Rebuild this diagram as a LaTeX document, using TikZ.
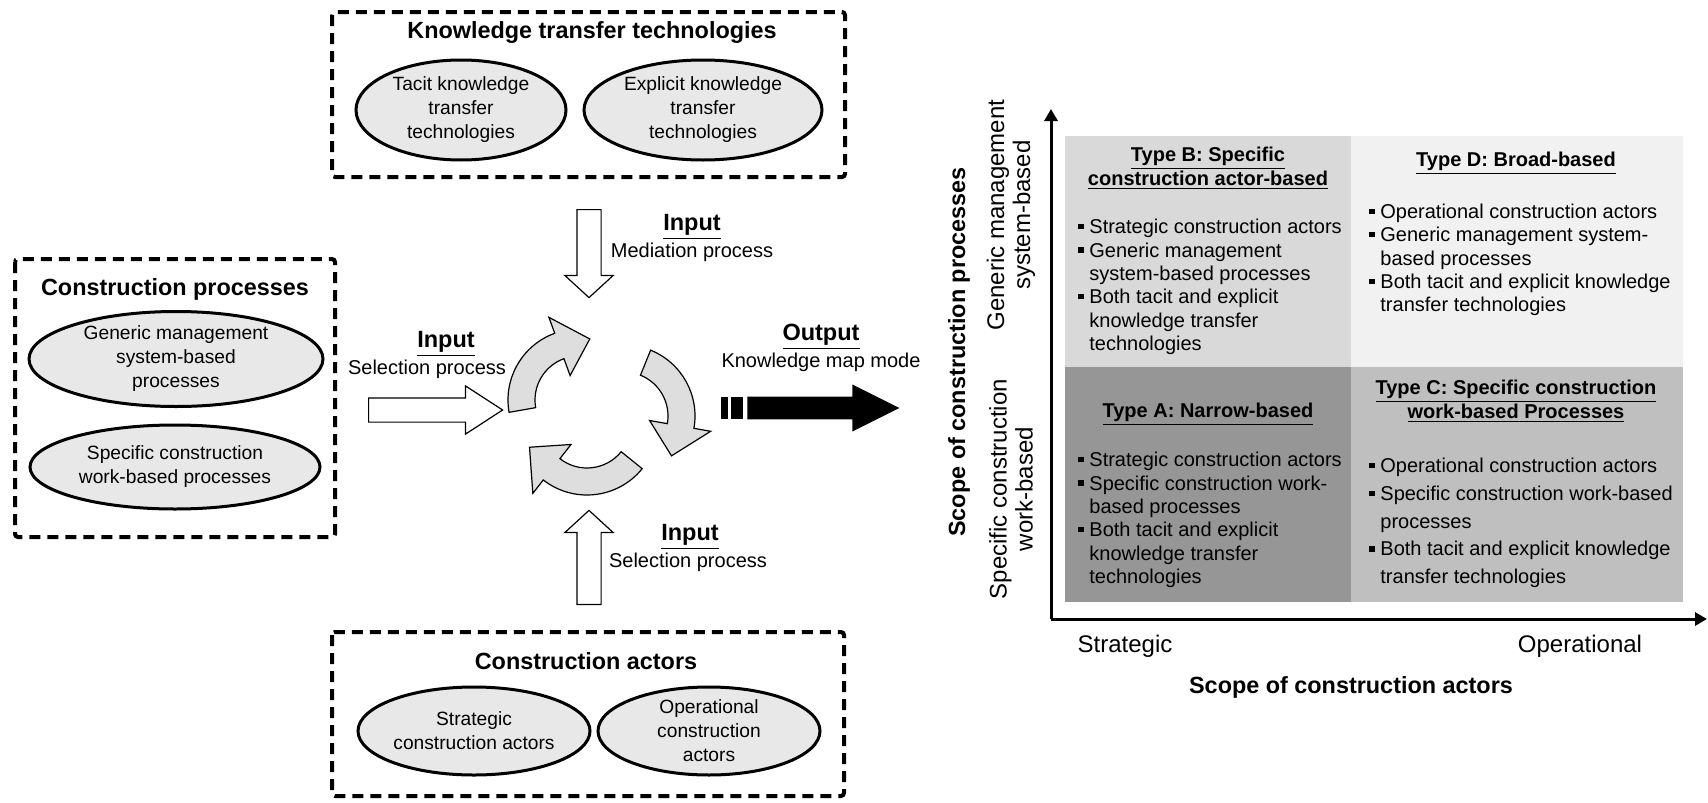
\documentclass[tikz,border=0pt]{standalone}
\usepackage{fontspec}
\setmainfont{Liberation Sans}
\usetikzlibrary{shapes.geometric,shapes.arrows,calc,arrows.meta}

\definecolor{ovalfill}{gray}{0.91}
\definecolor{cycfill}{gray}{0.87}
\definecolor{typeA}{gray}{0.59}
\definecolor{typeB}{gray}{0.85}
\definecolor{typeC}{gray}{0.75}
\definecolor{typeD}{gray}{0.945}

\tikzset{
  group/.style={draw, line width=2pt, dash pattern=on 5.5pt off 3.5pt, rounded corners=1.5pt},
  grouptitle/.style={font=\fontsize{11.7}{13.5}\selectfont\bfseries},
  oval/.style={ellipse, draw, line width=1.5pt, fill=ovalfill, align=center, inner sep=0pt,
    font=\fontsize{9.6}{12}\selectfont},
  blockarrow/.style={single arrow, draw, fill=white, line width=0.6pt, inner xsep=0pt,
    inner ysep=5.75pt, single arrow head extend=6pt, single arrow head indent=0pt, anchor=tail},
  vblockarrow/.style={blockarrow, inner xsep=5.75pt, inner ysep=0pt},
  cyc/.style={draw, fill=cycfill, line width=0.6pt},
  iohead/.style={font=\fontsize{11.75}{14}\selectfont\bfseries, inner sep=0pt},
  iotext/.style={font=\fontsize{10}{12}\selectfont, inner sep=0pt},
  qhead/.style={font=\fontsize{10}{12}\selectfont\bfseries, align=center, inner sep=0pt},
  qtext/.style={font=\fontsize{10}{11.7}\selectfont, align=left, anchor=west, inner sep=0pt},
  axislabel/.style={font=\fontsize{12}{13}\selectfont, align=center, inner sep=0pt},
  axistitle/.style={font=\fontsize{11.7}{13.5}\selectfont\bfseries, inner sep=0pt},
  axis/.style={line width=1.5pt, -{Triangle[length=6pt,width=6.5pt]}}
}

% bullet and indent for the quadrant lists
\newcommand{\qb}{\makebox[5.5pt][l]{\rule[0.22em]{2.6pt}{2.6pt}}}
\newcommand{\qi}{\hspace*{5.5pt}}

% circular arrow: centre, tail angle, head angle
\newcommand{\cycarrow}[3]{%
  \draw[cyc] ($(#1)+(#2:71)$) arc[start angle=#2, end angle=#3, radius=71]
    -- ($(#1)+(#3:88)$) -- ($(#1)+({#3+30}:62)$) -- ($(#1)+(#3:26)$)
    -- ($(#1)+(#3:44)$) arc[start angle=#3, end angle=#2, radius=44] -- cycle;}

\begin{document}
\begin{tikzpicture}[x=0.5pt,y=-0.5pt]
\useasboundingbox (0,0) rectangle (1708,803);

% knowledge transfer technologies
\draw[group] (332,12) rectangle (845,177);
\node[grouptitle] (kttitle) at (592,33) {Knowledge transfer technologies};
\node[oval, minimum width=105pt, minimum height=50pt] (tacit) at (461,110) {Tacit knowledge\\transfer\\technologies};
\node[oval, minimum width=119pt, minimum height=50pt] (explicit) at (703,110) {Explicit knowledge\\transfer\\technologies};

% construction processes
\draw[group] (15,259) rectangle (335,537);
\node[grouptitle] (proctitle) at (175,289) {Construction processes};
\node[oval, minimum width=147pt, minimum height=47.5pt] (generic) at (176,359) {Generic management\\system-based\\processes};
\node[oval, minimum width=145pt, minimum height=42pt] (specific) at (175,467) {Specific construction\\work-based processes};

% construction actors
\draw[group] (332,632) rectangle (844,796);
\node[grouptitle] (acttitle) at (586,661) {Construction actors};
\node[oval, minimum width=116pt, minimum height=44pt] (strategic) at (474,731) {Strategic\\construction actors};
\node[oval, minimum width=111pt, minimum height=44pt] (operational) at (709,731) {Operational\\construction\\actors};

% inputs
\node[vblockarrow, minimum height=44pt, single arrow tip angle=95, shape border rotate=270] (medarrow) at (589,209) {};
\node[iohead] (medin) at (692,227) {\underline{Input}};
\node[iotext] (medtxt) at (692,252) {Mediation process};

\node[blockarrow, minimum height=67pt, single arrow tip angle=66] (procarrow) at (368,410) {};
\node[iohead] (procin) at (446,344) {\underline{Input}};
\node[iotext] (proctxt) at (427,369) {Selection process};

\node[vblockarrow, minimum height=47pt, single arrow tip angle=95, shape border rotate=90] (actarrow) at (589,605) {};
\node[iohead] (actin) at (690,537) {\underline{Input}};
\node[iotext] (acttxt) at (688,562) {Selection process};

% cycle
\coordinate (cycL) at (579,400);
\coordinate (cycR) at (624,416);
\coordinate (cycB) at (587,424);
\cycarrow{cycL}{170}{250}
\cycarrow{cycR}{292}{370}
\cycarrow{cycB}{39}{128}

% output
\fill (721,397) rectangle (728,419);
\fill (731,397) rectangle (743,419);
\node[single arrow, fill=black, inner xsep=0pt, inner ysep=5.5pt, single arrow head extend=6pt,
  single arrow head indent=0pt, single arrow tip angle=53, minimum height=76pt, anchor=tail] (outarrow) at (747,408) {};
\node[iohead] (outhead) at (821,337) {\underline{Output}};
\node[iotext] (outtxt) at (821,362) {Knowledge map mode};

% quadrants
\fill[typeB] (1065,136) rectangle (1351,367);
\fill[typeD] (1351,136) rectangle (1683,367);
\fill[typeA] (1065,367) rectangle (1351,602);
\fill[typeC] (1351,367) rectangle (1683,602);

\node[qhead] (typeBhead) at (1208,168) {\underline{Type B: Specific}\\\underline{construction actor-based}};
\node[qtext] (typeBlist) at (1078,287) {\qb Strategic construction actors\\\qb Generic management\\\qi system-based processes\\\qb Both tacit and explicit\\\qi knowledge transfer\\\qi technologies};

\node[qhead] (typeDhead) at (1516,163) {\underline{Type D: Broad-based}};
\node[qtext] (typeDlist) at (1369,260) {\qb Operational construction actors\\\qb Generic management system-\\\qi based processes\\\qb Both tacit and explicit knowledge\\\qi transfer technologies};

\node[qhead] (typeAhead) at (1208,414) {\underline{Type A: Narrow-based}};
\node[qtext] (typeAlist) at (1078,520) {\qb Strategic construction actors\\\qb Specific construction work-\\\qi based processes\\\qb Both tacit and explicit\\\qi knowledge transfer\\\qi technologies};

\node[qhead] (typeChead) at (1516,401) {\underline{Type C: Specific construction}\\\underline{work-based Processes}};
\node[qtext, font=\fontsize{10}{13.9}\selectfont] (typeClist) at (1369,523) {\qb Operational construction actors\\\qb Specific construction work-based\\\qi processes\\\qb Both tacit and explicit knowledge\\\qi transfer technologies};

% axes
\coordinate (origin) at (1051,619);
\coordinate (ytop) at (1051,109);
\coordinate (xend) at (1707,619);
\draw[axis] (origin) -- (ytop);
\draw[axis] (origin) -- (xend);

\node[axistitle, rotate=90] (ytitle) at (959,352) {Scope of construction processes};
\node[axislabel, rotate=90] (yhigh) at (1011,215) {Generic management\\system-based};
\node[axislabel, rotate=90] (ylow) at (1011,489) {Specific construction\\work-based};
\node[axislabel] (xlow) at (1125,646) {Strategic};
\node[axislabel] (xhigh) at (1580,646) {Operational};
\node[axistitle] (xtitle) at (1351,687) {Scope of construction actors};
\end{tikzpicture}
\end{document}
